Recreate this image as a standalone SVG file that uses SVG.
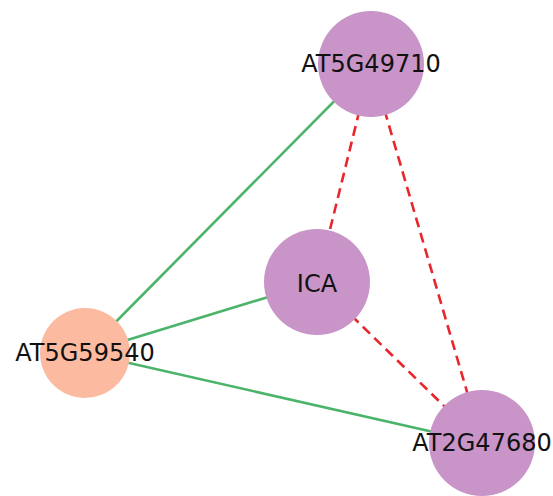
<svg xmlns="http://www.w3.org/2000/svg" width="553" height="496" viewBox="0 0 553 496">
<style>
.g{stroke:#4cb36a;stroke-width:2.6;fill:none}
.r{stroke:#e8262b;stroke-width:2.6;fill:none;stroke-dasharray:10,6}
.p{fill:#c994c7}
.o{fill:#fcbba1}
text{font-family:"DejaVu Sans",sans-serif;font-size:24px;fill:#111;text-anchor:middle;dominant-baseline:central}
</style>
<rect width="553" height="496" fill="#fff"/>
<g id="edges">
<line class="g" x1="85" y1="353" x2="371" y2="64"/>
<line class="g" x1="85" y1="353" x2="317" y2="282"/>
<line class="g" x1="85" y1="353" x2="482" y2="443"/>
<line class="r" x1="371" y1="64" x2="317" y2="282"/>
<line class="r" x1="371" y1="64" x2="482" y2="443"/>
<line class="r" x1="317" y1="282" x2="482" y2="443"/>
</g>
<g id="AT5G49710"><circle class="p" cx="371" cy="64" r="53"/><text x="371" y="64">AT5G49710</text></g>
<g id="ICA"><circle class="p" cx="317" cy="282" r="53"/><text x="317" y="284">ICA</text></g>
<g id="AT5G59540"><circle class="o" cx="85" cy="353" r="45"/><text x="85" y="353">AT5G59540</text></g>
<g id="AT2G47680"><circle class="p" cx="482" cy="443" r="53"/><text x="482" y="443">AT2G47680</text></g>
</svg>
